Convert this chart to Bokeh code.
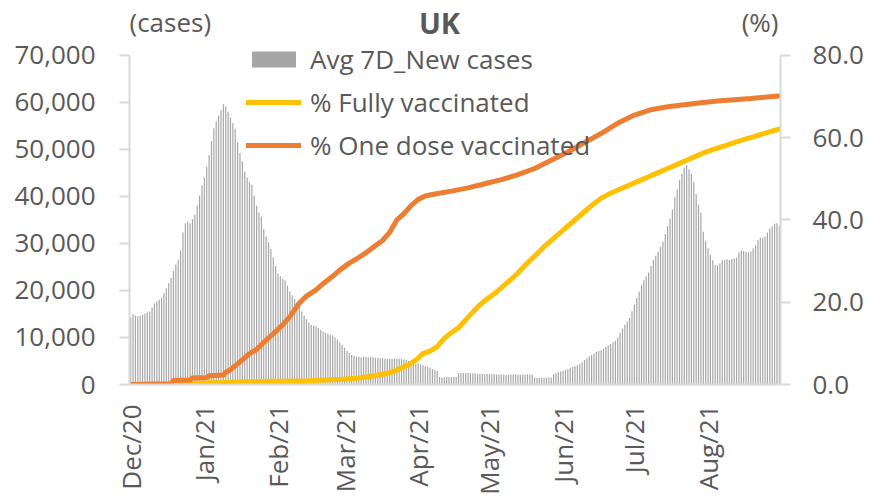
import pandas as pd
from math import pi
from bokeh.plotting import figure
from bokeh.models import (ColumnDataSource, Range1d, LinearAxis, FixedTicker,
                          NumeralTickFormatter, DatetimeTickFormatter, Legend,
                          LegendItem, Label)
from bokeh.embed import file_html
from bokeh.resources import INLINE

# ---------------- data ----------------
# 7-day average of new cases, daily, 1 Dec 2020 .. 31 Aug 2021
cases_dec = [14300, 15000, 14700, 14500, 14600, 14900, 15100, 15300, 15500, 16400,
             17200, 17600, 18000, 18500, 19400, 20400, 21600, 22700, 24200, 25500,
             26600, 28500, 32300, 34300, 34600, 34300, 35200, 36100, 38000, 40200,
             42400]
cases_jan = [44000, 46300, 48800, 51800, 54500, 56000, 57200, 58300, 59600, 59200,
             58000, 56800, 55600, 54400, 51500, 49300, 47500, 45300, 44000, 43000,
             42500, 40200, 38000, 36600, 35700, 33000, 31500, 30300, 28800, 27000,
             25200]
cases_feb = [23600, 23000, 22500, 22100, 21000, 19800, 19000, 18200, 17500, 16500,
             15500, 14700, 13900, 13200, 12700, 12500, 12400, 12000, 11600, 11200,
             11000, 10800, 10600, 10400, 10000, 9500, 9000, 8400]
cases_mar = [7800, 7200, 6700, 6300, 6100, 5900, 5900, 5800, 5900, 5900,
             5800, 5900, 5800, 5700, 5700, 5600, 5600, 5500, 5500, 5500,
             5400, 5500, 5500, 5500, 5400, 5300, 5200, 5000, 4800, 4600,
             4400]
cases_apr = [4500, 4300, 4100, 3900, 3700, 3500, 3300, 3100, 2900, 1600,
             1500, 1550, 1600, 1600, 1550, 1600, 1650, 2500, 2450, 2450,
             2400, 2450, 2400, 2400, 2350, 2300, 2300, 2250, 2200, 2250]
cases_may = [2250, 2200, 2200, 2150, 2150, 2150, 2100, 2100, 2100, 2100,
             2150, 2150, 2150, 2100, 2150, 2150, 2150, 2100, 2050, 1450,
             1400, 1400, 1450, 1450, 1450, 1500, 1500, 2200, 2400, 2600,
             2750]
cases_jun = [2900, 3100, 3300, 3500, 3700, 3900, 4100, 4300, 4750, 5200,
             5600, 6000, 6300, 6600, 6900, 7100, 7300, 7600, 7900, 8300,
             8600, 9000, 9300, 10000, 11000, 11900, 12700, 13400, 14200, 15600]
cases_jul = [17000, 18400, 19800, 21200, 22300, 23000, 23800, 25200, 26500, 27400,
             28300, 29300, 30400, 32000, 33700, 35300, 37200, 39800, 41500, 43500,
             44800, 46000, 46700, 45800, 44800, 43000, 40500, 38200, 36600, 32500,
             30500]
cases_aug = [29000, 27600, 26400, 25400, 25300, 25800, 26400, 26500, 26600, 26500,
             26700, 26800, 27000, 28100, 28500, 28400, 28200, 28100, 28300, 29000,
             29600, 30700, 31200, 31200, 31500, 32300, 33200, 33600, 34200, 34300,
             33700]
cases = (cases_dec + cases_jan + cases_feb + cases_mar + cases_apr + cases_may
         + cases_jun + cases_jul + cases_aug)
first_day = "2020-12-01"

# % one dose vaccinated
one_dose_dates = ["2020-12-01", "2020-12-18", "2020-12-19", "2020-12-26", "2020-12-27",
                  "2021-01-02", "2021-01-03", "2021-01-09", "2021-01-10", "2021-01-12",
                  "2021-01-16", "2021-01-20", "2021-01-23", "2021-01-27", "2021-01-30",
                  "2021-02-03", "2021-02-06", "2021-02-10", "2021-02-13", "2021-02-17",
                  "2021-02-20", "2021-02-24", "2021-02-27", "2021-03-03", "2021-03-06",
                  "2021-03-10", "2021-03-13", "2021-03-17", "2021-03-20", "2021-03-23",
                  "2021-03-26", "2021-03-29", "2021-04-01", "2021-04-04", "2021-04-08",
                  "2021-04-15", "2021-04-22", "2021-04-29", "2021-05-06", "2021-05-13",
                  "2021-05-20", "2021-05-27", "2021-06-03", "2021-06-10", "2021-06-17",
                  "2021-06-24", "2021-07-01", "2021-07-08", "2021-07-15", "2021-07-22",
                  "2021-07-29", "2021-08-05", "2021-08-12", "2021-08-19", "2021-08-26",
                  "2021-08-31"]
one_dose_pct = [0.0, 0.2, 1.0, 1.1, 1.6,
                1.7, 2.1, 2.3, 3.0, 3.6,
                5.5, 7.5, 8.5, 10.8, 12.3,
                14.5, 16.5, 19.8, 21.5, 23.0,
                24.5, 26.3, 27.8, 29.5, 30.5,
                32.0, 33.3, 35.0, 37.0, 40.0,
                41.5, 43.5, 45.0, 45.8, 46.3,
                47.0, 47.8, 48.8, 49.8, 51.0,
                52.5, 54.5, 56.5, 58.8, 61.0,
                63.5, 65.5, 66.8, 67.5, 68.0,
                68.5, 68.9, 69.2, 69.5, 69.9,
                70.1]

# % fully vaccinated
fully_dates = ["2020-12-21", "2020-12-27", "2021-01-03", "2021-01-10", "2021-01-17",
               "2021-01-24", "2021-01-31", "2021-02-07", "2021-02-14", "2021-02-21",
               "2021-02-28", "2021-03-07", "2021-03-14", "2021-03-18", "2021-03-21",
               "2021-03-25", "2021-03-28", "2021-03-31", "2021-04-03", "2021-04-06",
               "2021-04-09", "2021-04-12", "2021-04-15", "2021-04-18", "2021-04-21",
               "2021-04-24", "2021-04-27", "2021-04-30", "2021-05-04", "2021-05-08",
               "2021-05-12", "2021-05-16", "2021-05-20", "2021-05-24", "2021-05-28",
               "2021-06-01", "2021-06-05", "2021-06-09", "2021-06-13", "2021-06-17",
               "2021-06-21", "2021-06-25", "2021-06-29", "2021-07-03", "2021-07-07",
               "2021-07-11", "2021-07-15", "2021-07-19", "2021-07-23", "2021-07-27",
               "2021-07-31", "2021-08-04", "2021-08-08", "2021-08-12", "2021-08-16",
               "2021-08-20", "2021-08-24", "2021-08-28", "2021-08-31"]
fully_pct = [0.0, 0.3, 0.4, 0.5, 0.6,
             0.7, 0.8, 0.8, 0.9, 1.1,
             1.3, 1.6, 2.2, 2.6, 3.0,
             4.0, 4.8, 5.9, 7.5, 8.1,
             9.2, 11.2, 12.6, 13.8, 15.7,
             17.6, 19.4, 20.8, 22.5, 24.5,
             26.5, 29.0, 31.2, 33.5, 35.5,
             37.5, 39.5, 41.5, 43.5, 45.3,
             46.5, 47.5, 48.5, 49.5, 50.5,
             51.5, 52.5, 53.5, 54.5, 55.5,
             56.5, 57.3, 58.0, 58.8, 59.5,
             60.2, 60.9, 61.6, 62.1]

month_ticks = ["2020-12-01", "2021-01-01", "2021-02-01", "2021-03-01", "2021-04-01",
               "2021-05-01", "2021-06-01", "2021-07-01", "2021-08-01"]
cases_ticks = [0, 10000, 20000, 30000, 40000, 50000, 60000, 70000]
pct_ticks = [0, 20, 40, 60, 80]
cases_max = 70000
pct_max = 80

legend_labels = ["Avg 7D_New cases", "% Fully vaccinated", "% One dose vaccinated"]

# ---------------- sources ----------------
case_dates = pd.date_range(first_day, periods=len(cases), freq="D")
src_cases = ColumnDataSource(dict(date=case_dates, cases=cases))
src_one = ColumnDataSource(dict(date=pd.to_datetime(one_dose_dates), pct=one_dose_pct))
src_full = ColumnDataSource(dict(date=pd.to_datetime(fully_dates), pct=fully_pct))

DAY = 86400000
TXT = "#595959"
AX = "#d9d9d9"
FONT = "Open Sans"
FS = "26px"

W, H = 869, 497
FRAME_BOTTOM_PAD = 112     # room for the rotated month labels
AXIS_TOP_PX = 55           # where the top tick (70,000 / 80.0) sits
frame_h = H - FRAME_BOTTOM_PAD
head = frame_h / (frame_h - AXIS_TOP_PX)   # head-room so texts above the axes stay inside the frame

x_start = case_dates[0] - pd.Timedelta(hours=12)
x_end = case_dates[-1] + pd.Timedelta(hours=12)

p = figure(width=W, height=H, x_axis_type="datetime",
           output_backend="svg", toolbar_location=None,
           x_range=Range1d(x_start, x_end), y_range=Range1d(0, cases_max * head),
           min_border_left=129, min_border_right=89,
           min_border_top=0, min_border_bottom=FRAME_BOTTOM_PAD)
p.extra_y_ranges = {"pct": Range1d(0, pct_max * head)}
p.outline_line_color = None
p.xgrid.visible = False
p.ygrid.visible = False
p.background_fill_color = "white"

bars = p.vbar(x="date", top="cases", width=0.5 * DAY, source=src_cases,
              fill_color="#a6a6a6", line_color=None)
full_line = p.line(x="date", y="pct", source=src_full, y_range_name="pct",
                   line_color="#FFC000", line_width=5, line_join="round", line_cap="round")
one_line = p.line(x="date", y="pct", source=src_one, y_range_name="pct",
                  line_color="#ED7D31", line_width=5, line_join="round", line_cap="round")

# x axis
xa = p.xaxis[0]
tick_ms = [int(pd.Timestamp(t).value // 10**6) for t in month_ticks]
xa.ticker = FixedTicker(ticks=tick_ms)
fmt = "%b/%y"
xa.formatter = DatetimeTickFormatter(days=fmt, months=fmt, years=fmt, hours=fmt,
                                     minutes=fmt, seconds=fmt, milliseconds=fmt,
                                     microseconds=fmt, minsec=fmt, hourmin=fmt)
xa.major_label_orientation = pi / 2
xa.axis_line_color = AX
xa.axis_line_width = 2
xa.major_tick_line_color = None
xa.major_tick_out = 0
xa.major_tick_in = 0
xa.minor_tick_line_color = None
xa.minor_tick_out = 0
xa.major_label_standoff = 20
xa.major_label_text_font = FONT
xa.major_label_text_font_size = FS
xa.major_label_text_color = TXT

# left axis
ya = p.yaxis[0]
ya.ticker = FixedTicker(ticks=cases_ticks)
ya.formatter = NumeralTickFormatter(format="0,0")
ya.bounds = (0, cases_max)

# right axis
ra = LinearAxis(y_range_name="pct", ticker=FixedTicker(ticks=pct_ticks),
                formatter=NumeralTickFormatter(format="0.0"), bounds=(0, pct_max))
p.add_layout(ra, "right")

for ax, so in ((ya, 24), (ra, 22)):
    ax.axis_line_color = AX
    ax.axis_line_width = 2
    ax.major_tick_line_color = AX
    ax.major_tick_line_width = 2
    ax.major_tick_out = 10
    ax.major_tick_in = 0
    ax.minor_tick_line_color = None
    ax.minor_tick_out = 0
    ax.major_label_standoff = so
    ax.major_label_text_font = FONT
    ax.major_label_text_font_size = FS
    ax.major_label_text_color = TXT

# legend
legend = Legend(items=[LegendItem(label=legend_labels[0], renderers=[bars]),
                       LegendItem(label=legend_labels[1], renderers=[full_line]),
                       LegendItem(label=legend_labels[2], renderers=[one_line])],
                location=(117, 221), orientation="vertical",
                glyph_width=55, glyph_height=20, label_height=20,
                label_standoff=9, spacing=7, padding=0, margin=0,
                border_line_color=None, background_fill_alpha=0,
                label_text_font=FONT, label_text_font_size=FS,
                label_text_color=TXT)
p.add_layout(legend)

# title and unit labels (screen offsets measured from the plot frame)
p.add_layout(Label(x=310, y=362, x_units="screen", y_units="screen", text="UK",
                   text_font=FONT, text_font_style="bold", text_font_size="29px",
                   text_color=TXT, text_align="center", text_baseline="middle"))
p.add_layout(Label(x=0, y=363, x_units="screen", y_units="screen", text="(cases)",
                   text_font=FONT, text_font_size=FS, text_color=TXT,
                   text_align="left", text_baseline="middle"))
p.add_layout(Label(x=649, y=363, x_units="screen", y_units="screen", text="(%)",
                   text_font=FONT, text_font_size=FS, text_color=TXT,
                   text_align="right", text_baseline="middle"))

open("out.html", "w").write(file_html(p, INLINE))
